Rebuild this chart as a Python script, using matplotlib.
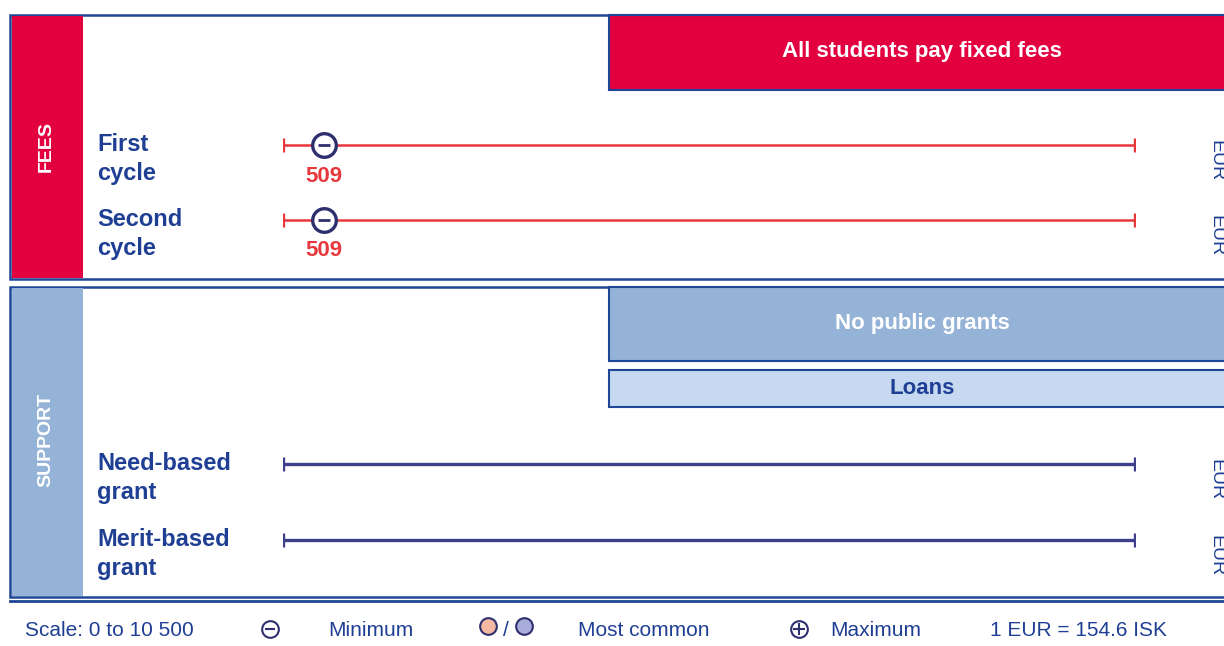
import matplotlib.pyplot as plt
from matplotlib.patches import Rectangle

# data
fee_rows = ['First\ncycle', 'Second\ncycle']
fee_min = [509, 509]
support_rows = ['Need-based\ngrant', 'Merit-based\ngrant']
scale_max = 10500
currency = 'EUR'
rate_text = '1 EUR = 154.6 ISK'

# colours
border = '#1f4597'
txt_blue = '#1f3f94'
red_band = '#e2003f'
red_line = '#e8383d'
navy = '#2e2f6e'
light_blue = '#95b3d7'
pale_blue = '#c6d9f1'
sup_line = '#3d3f8c'

plt.rcParams['font.family'] = ['Liberation Sans', 'DejaVu Sans']

fig = plt.figure(figsize=(12.24, 6.46), dpi=100)
ax = fig.add_axes([0, 0, 1, 1])
ax.set_xlim(0, 1224)
ax.set_ylim(646, 0)
ax.axis('off')

def box(x, y, w, h, fc, lw=1.8, ec=border, z=1):
    ax.add_patch(Rectangle((x, y), w, h, facecolor=fc, edgecolor=ec, lw=lw, zorder=z))

# FEES panel
box(10, 15, 1230, 264, 'white')
box(12, 16, 71, 262, red_band, lw=0, z=2)
ax.text(46, 147, 'FEES', rotation=90, color='white', fontsize=14, fontweight='bold',
        ha='center', va='center', zorder=3)
box(609, 15, 630, 75, red_band, lw=1.5, z=2)
ax.text(922, 52, 'All students pay fixed fees', color='white', fontsize=16, fontweight='bold',
        ha='center', va='center', zorder=3)

# SUPPORT panel
box(10, 287, 1230, 310, 'white')
box(12, 288, 71, 308, light_blue, lw=0, z=2)
ax.text(46, 440, 'SUPPORT', rotation=90, color='white', fontsize=14, fontweight='bold',
        ha='center', va='center', zorder=3)
box(609, 287, 630, 74, light_blue, lw=1.5, z=2)
ax.text(922, 324, 'No public grants', color='white', fontsize=16, fontweight='bold',
        ha='center', va='center', zorder=3)
box(609, 370, 630, 37, pale_blue, lw=1.5, z=2)
ax.text(922, 389, 'Loans', color=txt_blue, fontsize=16, fontweight='bold',
        ha='center', va='center', zorder=3)

# bottom rule
ax.plot([10, 1224], [601, 601], color=border, lw=2)

# row labels and EUR
fee_y = [145, 220]
sup_y = [464, 540]
for lab, y in zip(fee_rows + support_rows, fee_y + sup_y):
    ax.text(97, y + 14, lab, color=txt_blue, fontsize=17, fontweight='bold',
            ha='left', va='center', linespacing=1.35)
    ax.text(1216, y + 16, currency, color=txt_blue, fontsize=14, rotation=-90,
            ha='center', va='center')

# data axes: 0..scale_max across px 283..1135
ax2 = fig.add_axes([283 / 1224, 0, 852 / 1224, 1])
ax2.set_xlim(0, scale_max)
ax2.set_ylim(646, 0)
ax2.axis('off')
ax2.patch.set_alpha(0)

for y, v in zip(fee_y, fee_min):
    ax2.plot([0, scale_max], [y, y], color=red_line, lw=1.8, marker='|', ms=10, mew=2.4)
    ax2.plot(v, y, marker='o', ms=17, mfc='white', mec=navy, mew=2.4, zorder=4)
    ax2.plot(v, y, marker='_', ms=9, mec=navy, mew=2.0, zorder=5)
    ax2.text(v, y + 31, str(v), color=red_line, fontsize=16, fontweight='bold',
             ha='center', va='center')

for y in sup_y:
    ax2.plot([0, scale_max], [y, y], color=sup_line, lw=2.4, marker='|', ms=10, mew=2.4)

# legend
ly = 630
lsize = 15
ax.text(25, ly, 'Scale: 0 to 10 500', color=txt_blue, fontsize=lsize, ha='left', va='center')
ax.plot(270, ly - 1, marker='o', ms=12, mfc='white', mec=navy, mew=1.5)
ax.plot(270, ly - 1, marker='_', ms=7, mec=navy, mew=1.5)
ax.text(328, ly, 'Minimum', color=txt_blue, fontsize=lsize, ha='left', va='center')
ax.plot(488, ly - 4, marker='o', ms=12, mfc='#f4b9a0', mec=navy, mew=1.5)
ax.text(506, ly, '/', color=txt_blue, fontsize=lsize, ha='center', va='center')
ax.plot(524, ly - 4, marker='o', ms=12, mfc='#a9addb', mec=navy, mew=1.5)
ax.text(578, ly, 'Most common', color=txt_blue, fontsize=lsize, ha='left', va='center')
ax.plot(799, ly - 1, marker='o', ms=12, mfc='white', mec=navy, mew=1.5)
ax.plot(799, ly - 1, marker='+', ms=8, mec=navy, mew=1.5)
ax.text(830, ly, 'Maximum', color=txt_blue, fontsize=lsize, ha='left', va='center')
ax.text(990, ly, rate_text, color=txt_blue, fontsize=lsize, ha='left', va='center')

fig.savefig('out.png', dpi=100)
